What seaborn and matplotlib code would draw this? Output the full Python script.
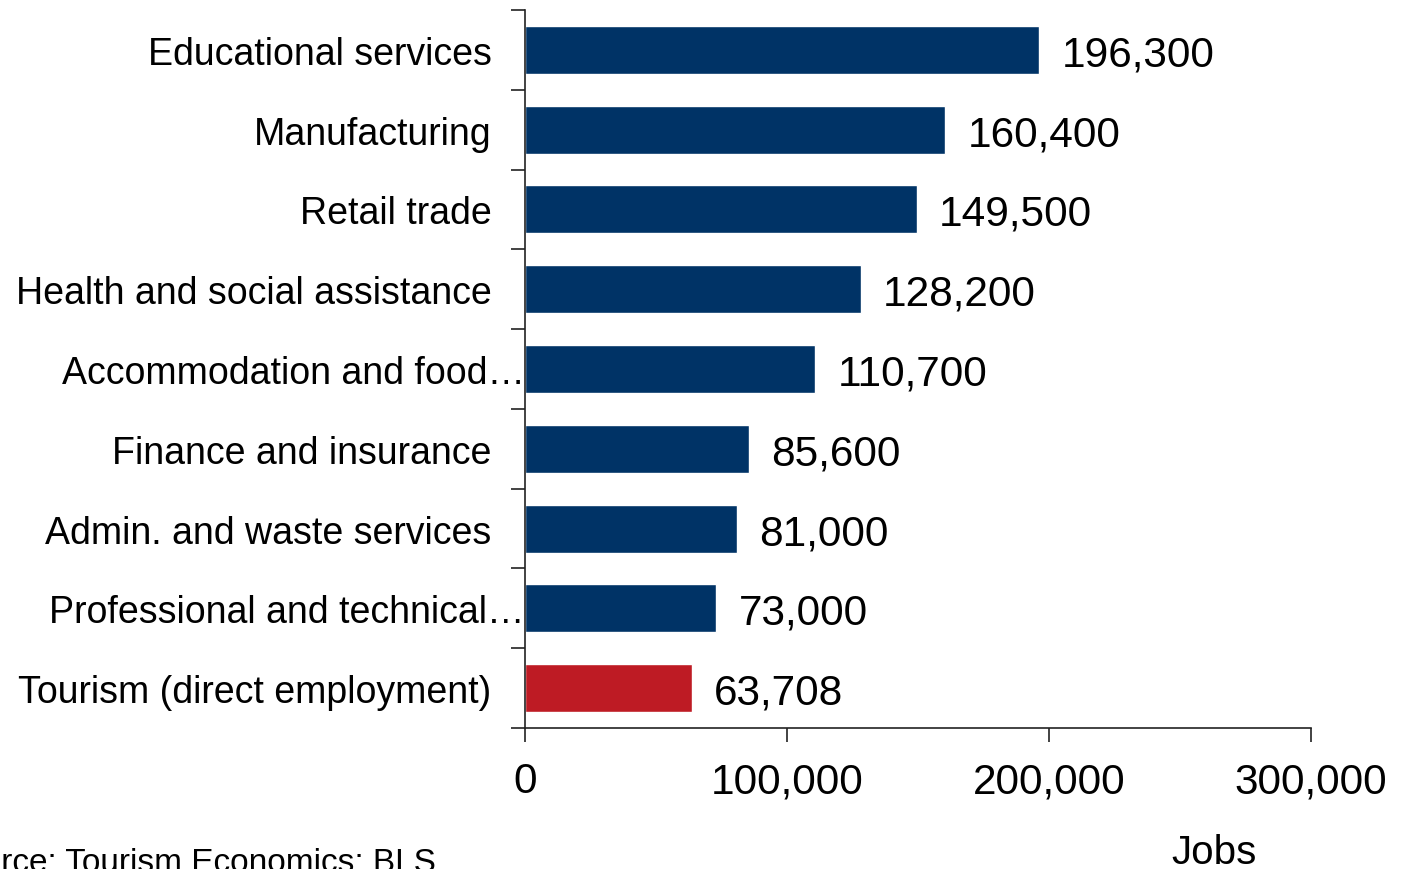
import matplotlib
matplotlib.use("Agg")
import matplotlib.pyplot as plt
import matplotlib.transforms as mtransforms
from matplotlib.ticker import FuncFormatter, FixedLocator
import seaborn as sns
import pandas as pd

# Employment by sector (jobs)
sectors = [
    "Educational services",
    "Manufacturing",
    "Retail trade",
    "Health and social assistance",
    "Accommodation and food…",
    "Finance and insurance",
    "Admin. and waste services",
    "Professional and technical…",
    "Tourism (direct employment)",
]
jobs = [196300, 160400, 149500, 128200, 110700, 85600, 81000, 73000, 63708]
group = ["Other"] * 8 + ["Tourism"]
x_ticks = [0, 100000, 200000, 300000]

palette = {"Other": "#003366", "Tourism": "#BE1B24"}

sns.set_theme(style="white")
plt.rcParams["font.family"] = ["Liberation Sans", "DejaVu Sans"]
plt.rcParams["text.color"] = "black"
plt.rcParams["xtick.color"] = "black"
plt.rcParams["ytick.color"] = "black"

df = pd.DataFrame({"sector": sectors, "jobs": jobs, "group": group})

fig = plt.figure(figsize=(14.02, 8.7), dpi=100)
ax = fig.add_axes([0.3745, 0.162, 0.5606, 0.8254])

sns.barplot(data=df, x="jobs", y="sector", hue="group", palette=palette,
            order=sectors, hue_order=["Other", "Tourism"], dodge=False,
            width=0.6, saturation=1, legend=False, ax=ax)

ax.set_xlim(0, 300000)
ax.set_ylim(len(sectors) - 0.5, -0.5)
ax.xaxis.set_major_locator(FixedLocator(x_ticks))
ax.xaxis.set_major_formatter(FuncFormatter(lambda v, p: f"{int(v):,}"))
ax.set_xlabel("")
ax.set_ylabel("")

# category ticks sit on the band boundaries
ax.set_yticks([i + 0.5 for i in range(-1, len(sectors))], minor=True)
ax.tick_params(axis="y", which="major", length=0, pad=24, labelsize=27, labelcolor="black")
ax.tick_params(axis="y", which="minor", length=10, width=1.2, color="#222222", direction="out", left=True)
ax.tick_params(axis="x", which="major", length=10, width=1.2, color="#222222", direction="out",
               pad=14, labelsize=30.5, bottom=True, labelcolor="black")

for lbl in ax.get_yticklabels():
    if lbl.get_text().endswith("…"):
        lbl.set_transform(lbl.get_transform() +
                          mtransforms.ScaledTranslation(33 / 100, 0, fig.dpi_scale_trans))

for s in ["top", "right"]:
    ax.spines[s].set_visible(False)
for s in ["left", "bottom"]:
    ax.spines[s].set_color("#222222")
    ax.spines[s].set_linewidth(1.2)

for cont in ax.containers:
    texts = ax.bar_label(cont, labels=[f"{int(v):,}" if v == v else "" for v in cont.datavalues],
                         padding=16, fontsize=30.5, color="black")
    for t in texts:
        t.set_verticalalignment("center_baseline")

fig.text(1214 / 1402, 1 - 864 / 870, "Jobs", ha="center", va="baseline", fontsize=29)
fig.text(-58 / 1402, 1 - 872 / 870, "Source: Tourism Economics; BLS", ha="left",
         va="baseline", fontsize=24)

fig.savefig("out.png", dpi=100)
